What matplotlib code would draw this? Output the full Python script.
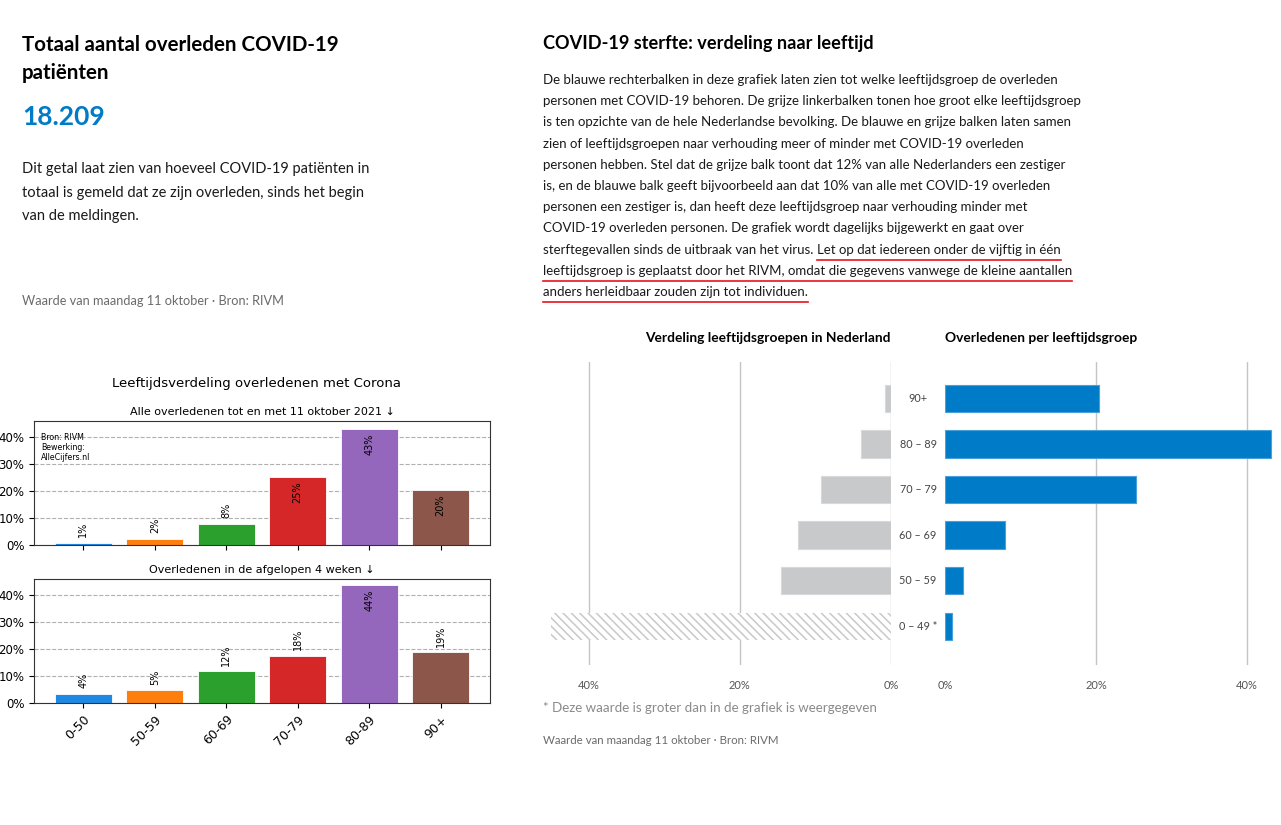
import matplotlib
matplotlib.use("Agg")
import matplotlib.pyplot as plt
import matplotlib.transforms as mtransforms
from matplotlib.lines import Line2D

# data
age_groups = ['0-50', '50-59', '60-69', '70-79', '80-89', '90+']
share_all = [0.8, 2.3, 7.8, 25.3, 43.0, 20.3]
share_4w = [3.5, 4.7, 11.7, 17.6, 43.6, 18.8]
bar_colors = ['#1f88e0', '#ff7f0e', '#2ca02c', '#d62728', '#9467bd', '#8c564b']

rivm_groups = ['90+', '80 – 89', '70 – 79', '60 – 69', '50 – 59', '0 – 49 *']
pop_share = [0.8, 4.0, 9.3, 12.3, 14.6, 59.0]
death_share = [20.4, 43.2, 25.3, 7.9, 2.4, 0.9]
pct_ticks = [0, 20, 40]

total_deaths = '18.209'

W, H = 1281, 825
WEB = ['Lato', 'DejaVu Sans']
BLUE = '#007bc7'
GREY_TXT = '#6b6b6b'

plt.rcParams['hatch.linewidth'] = 1.1


def fx(x):
    return x / W


def fy(y):
    return 1 - y / H


def box(left, top, right, bottom):
    return [fx(left), fy(bottom), (right - left) / W, (bottom - top) / H]


fig = plt.figure(figsize=(W / 100, H / 100), dpi=100)

# ---- left text block ----
fig.text(fx(22), fy(45), 'Totaal aantal overleden COVID-19', family=WEB, weight='bold',
         fontsize=14.8, va='center')
fig.text(fx(22), fy(73), 'patiënten', family=WEB, weight='bold', fontsize=14.8, va='center')
fig.text(fx(22), fy(117), total_deaths, family=WEB, weight='bold', fontsize=19,
         color=BLUE, va='center')
left_par = ['Dit getal laat zien van hoeveel COVID-19 patiënten in',
            'totaal is gemeld dat ze zijn overleden, sinds het begin',
            'van de meldingen.']
for i, line in enumerate(left_par):
    fig.text(fx(22), fy(169 + i * 23.5), line, family=WEB, fontsize=10.5, va='center',
             color='#1a1a1a')
fig.text(fx(22), fy(301), 'Waarde van maandag 11 oktober · Bron: RIVM', family=WEB,
         fontsize=9.2, va='center', color=GREY_TXT)

# ---- right text block ----
fig.text(fx(543), fy(43), 'COVID-19 sterfte: verdeling naar leeftijd', family=WEB,
         weight='bold', fontsize=13.1, va='center')
right_par = [
    ('De blauwe rechterbalken in deze grafiek laten zien tot welke leeftijdsgroep de overleden', ''),
    ('personen met COVID-19 behoren. De grijze linkerbalken tonen hoe groot elke leeftijdsgroep', ''),
    ('is ten opzichte van de hele Nederlandse bevolking. De blauwe en grijze balken laten samen', ''),
    ('zien of leeftijdsgroepen naar verhouding meer of minder met COVID-19 overleden', ''),
    ('personen hebben. Stel dat de grijze balk toont dat 12% van alle Nederlanders een zestiger', ''),
    ('is, en de blauwe balk geeft bijvoorbeeld aan dat 10% van alle met COVID-19 overleden', ''),
    ('personen een zestiger is, dan heeft deze leeftijdsgroep naar verhouding minder met', ''),
    ('COVID-19 overleden personen. De grafiek wordt dagelijks bijgewerkt en gaat over', ''),
    ('sterftegevallen sinds de uitbraak van het virus. ', 'Let op dat iedereen onder de vijftig in één'),
    ('', 'leeftijdsgroep is geplaatst door het RIVM, omdat die gegevens vanwege de kleine aantallen'),
    ('', 'anders herleidbaar zouden zijn tot individuen.'),
]
renderer = fig.canvas.get_renderer()
for i, (plain, under) in enumerate(right_par):
    y = 80 + i * 21.2
    x0 = fx(543)
    if plain:
        t = fig.text(x0, fy(y), plain, family=WEB, fontsize=9.55, va='center', color='#1a1a1a')
        bb = t.get_window_extent(renderer)
        x0 = bb.x1 / W
    if under:
        t = fig.text(x0, fy(y), under, family=WEB, fontsize=9.55, va='center', color='#1a1a1a')
        bb = t.get_window_extent(renderer)
        fig.add_artist(Line2D([bb.x0 / W, bb.x1 / W], [fy(y + 10), fy(y + 10)],
                              color='#e8131b', lw=1.2, transform=fig.transFigure))

# ---- left matplotlib chart ----
fig.text(fx(257), fy(383), 'Leeftijdsverdeling overledenen met Corona', ha='center',
         va='center', fontsize=9.5)

ax1 = fig.add_axes(box(34, 421, 490, 545))
ax2 = fig.add_axes(box(34, 579, 490, 703))
for ax, vals, title in [(ax1, share_all, 'Alle overledenen tot en met 11 oktober 2021 ↓'),
                        (ax2, share_4w, 'Overledenen in de afgelopen 4 weken ↓')]:
    xs = range(len(age_groups))
    ax.bar(xs, vals, color=bar_colors, width=0.8, edgecolor='white', linewidth=0.6)
    ax.set_ylim(0, 46)
    ax.set_yticks([0, 10, 20, 30, 40])
    ax.set_yticklabels([f'{v}%' for v in [0, 10, 20, 30, 40]], fontsize=8.5)
    ax.set_xticks(list(xs))
    ax.grid(axis='y', linestyle='--', color='#b0b0b0', linewidth=0.8)
    ax.set_axisbelow(True)
    ax.set_title(title, fontsize=8, pad=4)
    for x, v in zip(xs, vals):
        if v >= 20:
            ax.annotate(f'{round(v)}%', (x, v), xytext=(0, -3), textcoords='offset points',
                        rotation=90, ha='center', va='top', fontsize=7)
        else:
            ax.annotate(f'{round(v)}%', (x, v), xytext=(0, 4), textcoords='offset points',
                        rotation=90, ha='center', va='bottom', fontsize=7)
    for s in ax.spines.values():
        s.set_color('#333333')
ax1.set_xticklabels([])
ax2.set_xticklabels(age_groups, rotation=45, ha='right', rotation_mode='anchor', fontsize=9)
ax1.text(0.015, 0.9, 'Bron: RIVM\nBewerking:\nAlleCijfers.nl', transform=ax1.transAxes,
         fontsize=5.7, va='top', linespacing=1.1)

# ---- right butterfly chart ----
fig.text(fx(891), fy(338), 'Verdeling leeftijdsgroepen in Nederland', family=WEB,
         weight='bold', fontsize=9.9, ha='right', va='center')
fig.text(fx(945), fy(338), 'Overledenen per leeftijdsgroep', family=WEB, weight='bold',
         fontsize=9.9, ha='left', va='center')

axl = fig.add_axes(box(551, 362, 891, 665))
axr = fig.add_axes(box(945, 362, 1281, 665))
ys = list(range(len(rivm_groups)))
lim_left = 45
for i, v in enumerate(pop_share):
    if v > lim_left:
        # value is cut off at the axis edge, shown hatched
        axl.barh(i, v, height=0.6, color='white', edgecolor='#c9c9c9', linewidth=0,
                 hatch='\\\\\\\\')
    else:
        axl.barh(i, v, height=0.6, color='#c8c9cb', edgecolor='#d8d9db', linewidth=0.8)
axr.barh(ys, death_share, height=0.6, color=BLUE, edgecolor='#4aa0dc', linewidth=0.8)

axl.set_xlim(lim_left, 0)
axr.set_xlim(0, 44.5)
for ax in (axl, axr):
    ax.set_ylim(5.85, -0.8)
    ax.set_yticks([])
    ax.set_xticks(pct_ticks)
    ax.set_xticklabels([f'{t}%' for t in pct_ticks], family=WEB, fontsize=8, color='#555555')
    ax.tick_params(axis='x', length=0, pad=11)
    for s in ax.spines.values():
        s.set_visible(False)
    ax.set_axisbelow(True)
    ax.patch.set_alpha(0)
for t in pct_ticks:
    axl.axvline(t, color='#c4c4c4', lw=1, zorder=0)
    if t > 0:
        axr.axvline(t, color='#c4c4c4', lw=1, zorder=0)

label_tr = mtransforms.blended_transform_factory(fig.transFigure, axl.transData)
for i, g in enumerate(rivm_groups):
    fig.text(fx(918), i, g, transform=label_tr, family=WEB, fontsize=7.8, color='#444444',
             ha='center', va='center')

fig.text(fx(543), fy(708), '* Deze waarde is groter dan in de grafiek is weergegeven',
         family=WEB, fontsize=9.6, color='#8a8a8a', va='center')
fig.text(fx(543), fy(741), 'Waarde van maandag 11 oktober · Bron: RIVM', family=WEB,
         fontsize=8.25, color=GREY_TXT, va='center')

fig.savefig('out.png', dpi=100, facecolor='white')
